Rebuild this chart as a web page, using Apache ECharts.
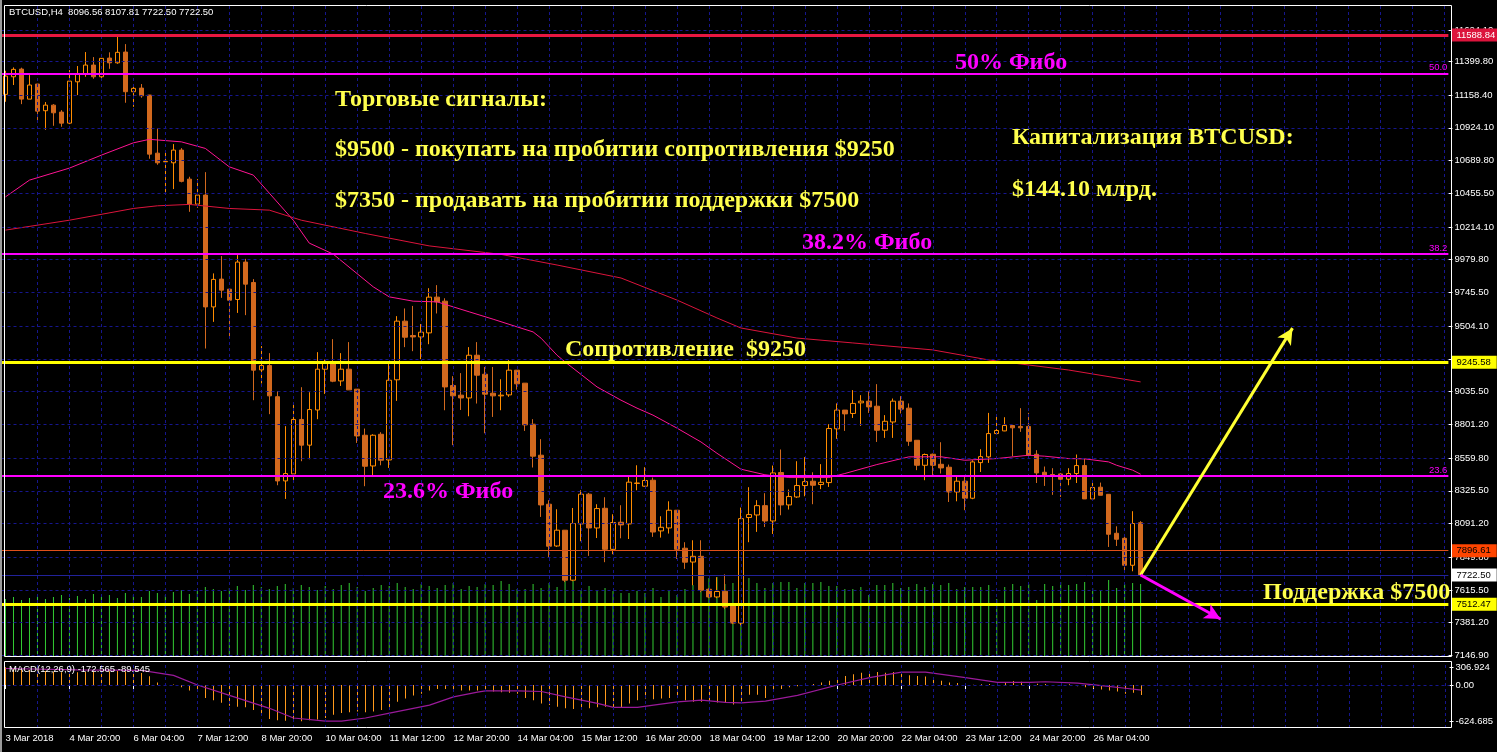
<!DOCTYPE html>
<html><head><meta charset="utf-8">
<script src="https://cdn.jsdelivr.net/npm/echarts@6/dist/echarts.min.js"></script>
<style>html,body{margin:0;padding:0;background:#000;overflow:hidden}#c{width:1497px;height:752px}</style>
</head><body><div id="c"></div>
<script>
// ---------- DATA ----------
const opens = [11164,11290,11345,11130,11238,11047,11087,11037,10958,11254,11309,11374,11290,11424,11390,11467,11183,11209,11159,10743,10681,10674,10765,10557,10378,10443,9642,9841,9769,9695,9963,9817,9191,9222,8999,8396,8446,8836,8652,8904,9196,9237,9112,9196,9053,8723,8503,8730,8546,9120,9540,9437,9427,9456,9712,9683,9079,9010,8990,9296,9160,9024,9005,9012,9189,9096,8802,8580,8229,7930,8043,7685,8088,8301,8059,8200,7906,8100,8088,8378,8358,8401,8038,8059,8186,7914,7815,7856,7620,7565,7606,7500,7378,8134,8152,8219,8109,8456,8224,8281,8363,8394,8370,8384,8769,8903,8879,8955,8967,8931,8759,8818,8967,8917,8687,8508,8587,8515,8494,8317,8394,8272,8527,8568,8735,8754,8793,8786,8786,8587,8458,8442,8446,8408,8449,8506,8267,8351,8300,8021,7985,7792,8096.56];
const highs = [11333,11357,11355,11302,11238,11109,11094,11051,11338,11367,11467,11431,11424,11465,11577,11524,11231,11238,11160,10920,10765,10808,10779,10574,10557,10607,9882,10006,9770,10013,9986,9841,9361,9311,9039,8788,8950,9067,9031,9318,9265,9411,9311,9390,9054,8771,8730,8745,9234,9576,9631,9649,9519,9776,9798,9704,9146,9168,9354,9390,9212,9212,9124,9261,9190,9097,8838,8695,8258,8193,8044,8202,8329,8310,8229,8279,8157,8222,8425,8508,8494,8420,8143,8250,8187,7957,7971,7971,7627,7706,7727,7505,8205,8351,8258,8308,8506,8621,8334,8537,8566,8458,8516,8802,8951,8904,9046,9010,9039,9089,8867,8986,9003,8951,8688,8592,8592,8673,8513,8425,8425,8544,8623,8883,8867,8852,8797,8917,8883,8616,8499,8487,8453,8487,8585,8556,8381,8384,8301,8071,7994,8179,8107.81];
const lows = [11111,11231,11094,11130,10960,10910,10939,10932,10951,11159,11290,11276,11266,11347,11383,11104,11075,11140,10703,10660,10464,10486,10534,10323,10352,9344,9535,9707,9427,9599,9583,8974,9094,8874,8365,8267,8381,8537,8551,8838,9019,9103,9076,9048,8668,8358,8437,8508,8489,8969,9354,9325,9268,9375,9595,8902,8652,8904,8859,8950,8737,8854,8902,8998,9050,8754,8492,8138,7844,7923,7671,7678,7964,7859,7987,7814,7871,7985,7980,8329,8353,7995,7990,8019,7837,7766,7649,7599,7556,7556,7477,7370,7362,7957,8031,8066,8016,8150,8191,8274,8286,8229,8337,8353,8697,8754,8847,8790,8883,8675,8704,8704,8879,8647,8473,8401,8437,8449,8245,8250,8186,8265,8460,8525,8728,8752,8573,8747,8563,8381,8360,8296,8281,8365,8381,8267,8266,8293,7923,7930,7749,7749,7722.50];
const closes = [11295,11343,11130,11231,11044,11087,11032,10958,11259,11312,11374,11290,11422,11390,11465,11183,11207,11154,10736,10674,10684,10765,10541,10378,10443,9642,9839,9762,9690,9963,9805,9189,9222,9005,8396,8449,8836,8652,8907,9196,9237,9110,9196,9048,8718,8501,8723,8544,9117,9540,9425,9427,9461,9712,9678,9069,9005,8990,9296,9153,9017,9005,9010,9189,9091,8797,8573,8224,7928,8043,7685,8091,8301,8059,8198,7906,8098,8081,8387,8381,8399,8030,8064,8186,7906,7814,7856,7613,7565,7604,7493,7378,8126,8155,8219,8109,8453,8224,8284,8363,8391,8365,8386,8771,8903,8876,8951,8967,8926,8759,8823,8967,8910,8680,8508,8585,8508,8489,8317,8394,8272,8532,8570,8735,8757,8793,8776,8776,8580,8453,8430,8430,8408,8449,8506,8267,8349,8293,8014,7978,7792,8091,7722.50];
const volumes = [58,60,57,59,61,58,60,62,59,61,58,63,60,62,59,64,62,60,66,64,62,65,67,63,66,70,68,66,69,71,67,72,70,68,71,73,69,72,70,67,71,68,72,74,70,66,69,72,71,74,70,68,73,71,69,72,74,68,71,70,73,72,76,73,68,68,73,69,74,70,76,76,67,71,66,69,66,64,64,66,64,69,60,67,62,68,72,76,79,80,73,74,75,79,74,69,74,75,75,69,74,74,75,71,71,68,68,70,62,72,72,74,69,70,73,70,73,72,74,68,70,70,70,72,58,70,73,71,73,57,73,71,75,72,73,75,69,66,77,69,73,74,73];
const macdMain = [306.9,285,275,262,250,240,230,220,215,218,225,230,235,238,245,235,222,205,150,45,15,10,-39,-95,-112,-223,-262,-307,-357,-374,-385,-430,-530,-586,-610,-615,-622,-624.7,-610,-597,-569,-513,-485,-469,-458,-469,-458,-430,-402,-290,-234,-179,-151,-95,-67,-67,-84,-95,-95,-95,-112,-112,-123,-134,-151,-223,-262,-318,-346,-374,-402,-413,-402,-402,-385,-374,-402,-391,-318,-262,-234,-246,-234,-223,-223,-262,-290,-290,-290,-301,-301,-335,-290,-167,-167,-223,-95,-67,-39,-22,-10,17,45,73,128,156,184,212,223,223,212,223,212,167,156,145,100,73,45,33,0,3,11,17,28,45,67,56,45,22,17,2,-11,11,-22,-39,-56,-78,-95,-112,-151,-134,-172.565];
const macdSignal = [[0,285],[9,262],[17,251],[21,167],[24,0],[28,-179],[33,-402],[36,-569],[40,-624],[42,-624],[45,-569],[48,-485],[53,-346],[56,-206],[59,-123],[60,-100],[64,-100],[67,-112],[70,-206],[74,-318],[76,-385],[79,-385],[81,-346],[84,-290],[87,-262],[90,-301],[92,-307],[95,-279],[99,-179],[104,0],[108,128],[112,223],[115,223],[120,128],[124,45],[128,45],[130,56],[134,33],[137,-11],[140,-56],[142,-89.545]];
const maFast = [[0,10430],[3.4,10550],[7.7,10636],[11.8,10729],[15.9,10817],[18.4,10842],[22.2,10824],[25.1,10777],[28.4,10645],[30.9,10586],[33.4,10457],[36,10263],[38.4,10099],[41,10020],[45.9,9786],[48.4,9714],[51.4,9683],[54.3,9678],[57.6,9607],[60.9,9554],[63.9,9499],[65.6,9463],[67.2,9418],[69.3,9296],[70.1,9248],[74.3,9069],[77,8974],[79.3,8917],[81.4,8867],[84.3,8774],[86.8,8675],[89.3,8594],[91.8,8480],[94.7,8440],[97.6,8420],[103.4,8420],[105.2,8449],[108.9,8513],[113.1,8568],[116.8,8569],[120.2,8544],[124.3,8556],[127.6,8580],[130.1,8573],[132.6,8556],[134.7,8554],[137.7,8532],[139.3,8508],[141,8473],[142,8444]];
const maSlow = [[0,10192],[7.7,10263],[16,10347],[19.3,10366],[22.6,10376],[28.4,10347],[32.7,10335],[36.8,10263],[45.1,10168],[53.4,10079],[61.8,10018],[69.3,9942],[76.8,9849],[84.3,9691],[89.3,9563],[92.4,9491],[99.3,9419],[105.6,9384],[115.6,9334],[123.1,9262],[133,9190],[141.8,9105]];
const priceTicks = [11624.10,11399.80,11158.40,10924.10,10689.80,10455.50,10214.10,9979.80,9745.50,9504.10,9269.80,9035.50,8801.20,8559.80,8325.50,8091.20,7849.80,7615.50,7381.20,7146.90];
const macdTicks = [306.924,0,-624.685];
const timeLabels = ['3 Mar 2018','4 Mar 20:00','6 Mar 04:00','7 Mar 12:00','8 Mar 20:00','10 Mar 04:00','11 Mar 12:00','12 Mar 20:00','14 Mar 04:00','15 Mar 12:00','16 Mar 20:00','18 Mar 04:00','19 Mar 12:00','20 Mar 20:00','22 Mar 04:00','23 Mar 12:00','24 Mar 20:00','26 Mar 04:00'];
const fiboPrices = [11314.6,10020.8,8431.3];
const fiboNames = ['50.0','38.2','23.6'];
const resistance = 9245.58, support = 7512.47, topLevel = 11588.84, askLine = 7896.61, bidLine = 7722.50;
const buyTarget = [161, 9490], sellTarget = [152.3, 7407];

// ---------- CHART ----------
const SLOTS = 181;
const cats = Array.from({length: SLOTS}, (_, i) => String(i));
const GRID = '#16168e';
const SANS = "'Liberation Sans', Arial, sans-serif";
const SERIF = "'Liberation Serif', 'Times New Roman', serif";
const YEL = '#ffff4d', MAG = '#ff00ff';
const vIdx = []; for (let i = 4; i < SLOTS; i += 4) vIdx.push(i);
const lastIdx = opens.length - 1;

function boxLabel(bg, fg) {
  return {show: true, position: 'end', distance: 3, backgroundColor: bg, color: fg,
    padding: [2, 6, 1, 5], fontSize: 9.5, fontFamily: SANS, formatter: p => p.value.toFixed(2)};
}
function fiboLabel(name) {
  return {show: true, position: 'insideEndTop', distance: 1, color: MAG, fontSize: 9.5, fontFamily: SANS, formatter: name};
}

const chart = echarts.init(document.getElementById('c'));
chart.setOption({
  backgroundColor: '#000',
  animation: false,
  grid: [
    {left: 1.5, right: 47.5, top: 5, height: 652, show: false},
    {left: 1.5, right: 47.5, top: 661, height: 67, show: false}
  ],
  xAxis: [
    {type: 'category', gridIndex: 0, data: cats, boundaryGap: true, show: false},
    {type: 'category', gridIndex: 1, data: cats, boundaryGap: true,
      axisLine: {show: false},
      axisTick: {show: true, alignWithLabel: true, length: 4, lineStyle: {color: '#fff'},
        interval: i => i % 8 === 0 && i / 8 < timeLabels.length},
      axisLabel: {color: '#fff', fontSize: 9.5, fontFamily: SANS, align: 'left', margin: 5,
        interval: i => i % 8 === 0 && i / 8 < timeLabels.length,
        formatter: (v, i) => (i % 8 === 0 && timeLabels[i / 8]) ? timeLabels[i / 8] : ''},
      splitLine: {show: false}}
  ],
  yAxis: [
    {type: 'value', gridIndex: 0, position: 'right', min: 7135, max: 11804, scale: true,
      axisLine: {show: false}, splitLine: {show: false},
      axisTick: {show: true, customValues: priceTicks, length: 4, lineStyle: {color: '#fff'}},
      axisLabel: {customValues: priceTicks, color: '#fff', fontSize: 9.5, fontFamily: SANS, margin: 6,
        formatter: v => v.toFixed(2)}},
    {type: 'value', gridIndex: 0, min: 0, max: 652, show: false},
    {type: 'value', gridIndex: 1, position: 'right', min: -741.75, max: 414,
      axisLine: {show: false}, splitLine: {show: false},
      axisTick: {show: true, customValues: macdTicks, length: 4, lineStyle: {color: '#fff'}},
      axisLabel: {customValues: macdTicks, color: '#fff', fontSize: 9.5, fontFamily: SANS, margin: 6,
        formatter: v => v === 0 ? '0.00' : v.toFixed(3)}}
  ],
  series: [
    {type: 'line', name: 'gridMain', xAxisIndex: 0, yAxisIndex: 0, data: [], z: 0, silent: true,
      markLine: {silent: true, symbol: ['none', 'none'], label: {show: false}, animation: false,
        lineStyle: {color: GRID, type: [3, 3], width: 1},
        data: priceTicks.map(v => ({yAxis: v})).concat(vIdx.map(i => ({xAxis: i})))}},
    {type: 'line', name: 'gridMacd', xAxisIndex: 1, yAxisIndex: 2, data: [], z: 0, silent: true,
      markLine: {silent: true, symbol: ['none', 'none'], label: {show: false}, animation: false,
        lineStyle: {color: GRID, type: [3, 3], width: 1},
        data: [{yAxis: 0}].concat(vIdx.map(i => ({xAxis: i})))}},
    {type: 'bar', name: 'Volume', xAxisIndex: 0, yAxisIndex: 1, data: volumes, barWidth: 1,
      itemStyle: {color: '#33cc33'}, z: 1, silent: true},
    {type: 'candlestick', name: 'BTCUSD', xAxisIndex: 0, yAxisIndex: 0, barWidth: 5, z: 3,
      data: opens.map((o, i) => [o, closes[i], lows[i], highs[i]]),
      itemStyle: {color: '#000', color0: '#d2691e', borderColor: '#ff8c00', borderColor0: '#d2691e', borderWidth: 1}},
    {type: 'line', name: 'MA fast', xAxisIndex: 0, yAxisIndex: 0, data: maFast, symbol: 'none', z: 4,
      lineStyle: {color: '#ff1493', width: 1}},
    {type: 'line', name: 'MA slow', xAxisIndex: 0, yAxisIndex: 0, data: maSlow, symbol: 'none', z: 4,
      lineStyle: {color: '#dc143c', width: 1}},
    {type: 'line', name: 'levels', xAxisIndex: 0, yAxisIndex: 0, data: [], z: 5,
      markLine: {silent: true, symbol: ['none', 'none'], animation: false,
        data: [
          {yAxis: askLine, lineStyle: {color: '#e0501a', width: 1, type: 'solid'}, label: boxLabel('#ff4500', '#000')},
          {yAxis: bidLine, lineStyle: {color: '#22229a', width: 1, type: 'solid'}, label: boxLabel('#ffffff', '#000')},
          {yAxis: fiboPrices[0], lineStyle: {color: MAG, width: 2, type: 'solid'}, label: fiboLabel(fiboNames[0])},
          {yAxis: fiboPrices[1], lineStyle: {color: MAG, width: 2, type: 'solid'}, label: fiboLabel(fiboNames[1])},
          {yAxis: fiboPrices[2], lineStyle: {color: MAG, width: 2, type: 'solid'}, label: fiboLabel(fiboNames[2])},
          {yAxis: topLevel, lineStyle: {color: '#e8173f', width: 3, type: 'solid'}, label: boxLabel('#dc143c', '#fff')},
          {yAxis: resistance, lineStyle: {color: '#ffff00', width: 3, type: 'solid'}, label: boxLabel('#ffff00', '#000')},
          {yAxis: support, lineStyle: {color: '#ffff00', width: 3, type: 'solid'}, label: boxLabel('#ffff00', '#000')}
        ]}},
    {type: 'line', name: 'arrows', xAxisIndex: 0, yAxisIndex: 0, data: [], z: 6,
      markLine: {silent: true, symbol: ['none', 'arrow'], symbolSize: [12, 16], label: {show: false}, animation: false,
        data: [
          [{coord: [lastIdx, closes[lastIdx]], lineStyle: {color: '#ffff33', width: 3, type: 'solid'}}, {coord: buyTarget}],
          [{coord: [lastIdx, closes[lastIdx]], lineStyle: {color: MAG, width: 3, type: 'solid'}}, {coord: sellTarget}]
        ]}},
    {type: 'bar', name: 'MACD', xAxisIndex: 1, yAxisIndex: 2, data: macdMain, barWidth: 1,
      itemStyle: {color: '#ff9a1c'}, z: 2, silent: true},
    {type: 'line', name: 'Signal', xAxisIndex: 1, yAxisIndex: 2, data: macdSignal, symbol: 'none', z: 3,
      lineStyle: {color: '#9a1a9a', width: 1.2}}
  ],
  graphic: [
    {type: 'rect', shape: {x: 0, y: 0, width: 2, height: 752}, style: {fill: '#9a9a9a'}, z: 100, silent: true},
    {type: 'rect', shape: {x: 4.5, y: 5.5, width: 1447, height: 651}, style: {fill: null, stroke: '#fff', lineWidth: 1}, z: 100, silent: true},
    {type: 'rect', shape: {x: 4.5, y: 661.5, width: 1447, height: 66}, style: {fill: null, stroke: '#fff', lineWidth: 1}, z: 100, silent: true},
    {type: 'text', x: 9, y: 12, style: {text: 'BTCUSD,H4  8096.56 8107.81 7722.50 7722.50', fill: '#fff', font: "9.5px 'Liberation Sans'", verticalAlign: 'middle'}, z: 101},
    {type: 'text', x: 9, y: 669, style: {text: 'MACD(12,26,9) -172.565 -89.545', fill: '#fff', font: "9.5px 'Liberation Sans'", verticalAlign: 'middle'}, z: 101},
    {type: 'text', x: 335, y: 100, style: {text: 'Торговые сигналы:', fill: YEL, font: "bold 24px 'Liberation Serif'", verticalAlign: 'middle'}, z: 101},
    {type: 'text', x: 335, y: 150, style: {text: '$9500 - покупать на пробитии сопротивления $9250', fill: YEL, font: "bold 24px 'Liberation Serif'", verticalAlign: 'middle'}, z: 101},
    {type: 'text', x: 335, y: 201, style: {text: '$7350 - продавать на пробитии поддержки $7500', fill: YEL, font: "bold 24px 'Liberation Serif'", verticalAlign: 'middle'}, z: 101},
    {type: 'text', x: 1012, y: 138, style: {text: 'Капитализация BTCUSD:', fill: YEL, font: "bold 24px 'Liberation Serif'", verticalAlign: 'middle'}, z: 101},
    {type: 'text', x: 1012, y: 190, style: {text: '$144.10 млрд.', fill: YEL, font: "bold 24px 'Liberation Serif'", verticalAlign: 'middle'}, z: 101},
    {type: 'text', x: 955, y: 63, style: {text: '50% Фибо', fill: MAG, font: "bold 24px 'Liberation Serif'", verticalAlign: 'middle'}, z: 101},
    {type: 'text', x: 802, y: 243, style: {text: '38.2% Фибо', fill: MAG, font: "bold 24px 'Liberation Serif'", verticalAlign: 'middle'}, z: 101},
    {type: 'text', x: 565, y: 350, style: {text: 'Сопротивление  $9250', fill: YEL, font: "bold 24px 'Liberation Serif'", verticalAlign: 'middle'}, z: 101},
    {type: 'text', x: 383, y: 492, style: {text: '23.6% Фибо', fill: MAG, font: "bold 24px 'Liberation Serif'", verticalAlign: 'middle'}, z: 101},
    {type: 'text', x: 1263, y: 593, style: {text: 'Поддержка $7500', fill: YEL, font: "bold 24px 'Liberation Serif'", verticalAlign: 'middle'}, z: 101}
  ]
});
</script>
</body></html>
